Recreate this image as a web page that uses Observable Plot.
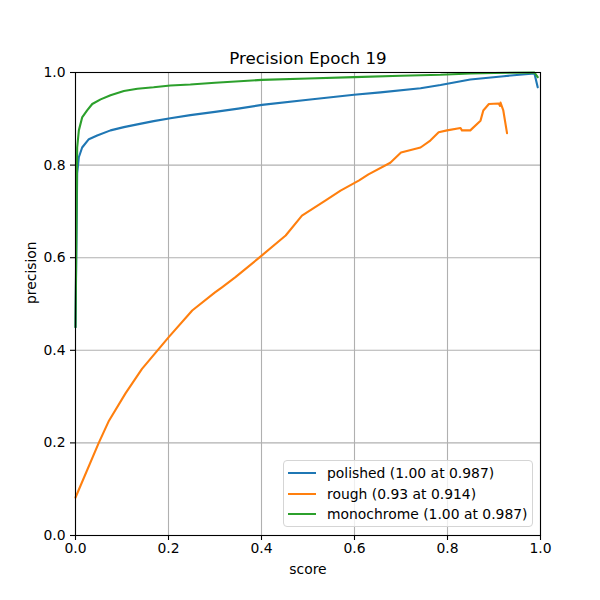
<!DOCTYPE html>
<html>
<head>
<meta charset="utf-8">
<script src="https://cdn.jsdelivr.net/npm/d3@7"></script>
<script src="https://cdn.jsdelivr.net/npm/@observablehq/plot@0.6"></script>
<style>
  html, body { margin: 0; padding: 0; background: #fff; }
  #wrap { position: relative; width: 600px; height: 600px; font-family: "DejaVu Sans", sans-serif; }
  #legend { position: absolute; left: 283px; top: 460px; width: 248px; height: 65px;
    border: 1px solid #d5d5d5; border-radius: 4px; background: rgba(255,255,255,0.8);
    font-size: 13.9px; color: #000; box-sizing: content-box; }
  .row { position: absolute; left: 0; height: 20px; display: flex; align-items: center; }
  .sw { width: 28px; height: 0; border-top: 2.1px solid; margin-left: 4px; margin-right: 11px; }
</style>
</head>
<body>
<div id="wrap"></div>
<script>
const title = "Precision Epoch 19";
const xLabel = "score";
const yLabel = "precision";
const xTicks = [0, 0.2, 0.4, 0.6, 0.8, 1.0];
const yTicks = [0, 0.2, 0.4, 0.6, 0.8, 1.0];

const seriesNames = ["polished", "rough", "monochrome"];
const seriesLabels = ["polished (1.00 at 0.987)", "rough (0.93 at 0.914)", "monochrome (1.00 at 0.987)"];
const seriesColors = ["#1f77b4", "#ff7f0e", "#2ca02c"];

const polishedScore = [0, 0.0036, 0.0072, 0.0143, 0.0287, 0.0466, 0.0753, 0.104, 0.133, 0.168, 0.204, 0.247, 0.3, 0.35, 0.401, 0.5, 0.599, 0.656, 0.742, 0.785, 0.849, 0.921, 0.987, 0.994];
const polishedPrecision = [0.45, 0.782, 0.817, 0.838, 0.856, 0.864, 0.875, 0.882, 0.888, 0.895, 0.901, 0.908, 0.915, 0.922, 0.930, 0.941, 0.952, 0.957, 0.966, 0.973, 0.985, 0.992, 0.998, 0.968];

const roughScore = [0, 0.05, 0.072, 0.1075, 0.143, 0.2, 0.251, 0.3, 0.315, 0.344, 0.401, 0.452, 0.487, 0.538, 0.57, 0.61, 0.63, 0.677, 0.7, 0.742, 0.763, 0.781, 0.799, 0.828, 0.831, 0.849, 0.871, 0.877, 0.889, 0.910, 0.913, 0.914, 0.92, 0.928];
const roughPrecision = [0.082, 0.2, 0.248, 0.307, 0.36, 0.428, 0.486, 0.525, 0.536, 0.558, 0.605, 0.648, 0.691, 0.724, 0.745, 0.767, 0.78, 0.805, 0.827, 0.838, 0.853, 0.871, 0.875, 0.880, 0.875, 0.875, 0.896, 0.918, 0.932, 0.933, 0.928, 0.935, 0.918, 0.869];

const monochromeScore = [0, 0.0036, 0.0072, 0.0143, 0.025, 0.036, 0.054, 0.0753, 0.104, 0.133, 0.168, 0.204, 0.247, 0.3, 0.401, 0.5, 0.599, 0.7, 0.785, 0.85, 0.9, 0.987, 0.994];
const monochromePrecision = [0.45, 0.838, 0.875, 0.903, 0.918, 0.932, 0.942, 0.951, 0.960, 0.965, 0.968, 0.972, 0.974, 0.978, 0.984, 0.987, 0.990, 0.993, 0.995, 0.998, 0.999, 1.0, 0.99];

const scores = [polishedScore, roughScore, monochromeScore];
const precisions = [polishedPrecision, roughPrecision, monochromePrecision];
const rows = [];
seriesNames.forEach((name, i) => {
  scores[i].forEach((s, j) => rows.push({series: name, score: s, precision: precisions[i][j]}));
});

const gridStyle = {stroke: "#b0b0b0", strokeOpacity: 1, strokeWidth: 1.1};

const plot = Plot.plot({
  width: 600,
  height: 600,
  marginLeft: 75,
  marginRight: 60,
  marginTop: 72,
  marginBottom: 65,
  style: {fontFamily: "DejaVu Sans, sans-serif", fontSize: "13.9px", color: "#000", background: "#fff"},
  x: {domain: [0, 1]},
  y: {domain: [0, 1]},
  color: {domain: seriesNames, range: seriesColors},
  marks: [
    Plot.gridX(xTicks, gridStyle),
    Plot.gridY(yTicks, gridStyle),
    Plot.line(rows, {x: "score", y: "precision", z: "series", stroke: "series", strokeWidth: 2.1, curve: "linear"}),
    Plot.frame({stroke: "#000", strokeWidth: 1.1}),
    Plot.axisX(xTicks, {tickFormat: d3.format(".1f"), tickSize: 5, tickPadding: 3, label: null, strokeWidth: 1.1}),
    Plot.axisY(yTicks, {tickFormat: d3.format(".1f"), tickSize: 5, tickPadding: 5, label: null, strokeWidth: 1.1}),
    Plot.text([title], {frameAnchor: "top", lineAnchor: "middle", dy: -14, fontSize: 16.7, text: d => d}),
    Plot.text([xLabel], {frameAnchor: "bottom", lineAnchor: "middle", dy: 34, fontSize: 13.9, text: d => d}),
    Plot.text([yLabel], {frameAnchor: "left", lineAnchor: "middle", dx: -44, rotate: -90, fontSize: 13.9, text: d => d})
  ]
});

const wrap = document.getElementById("wrap");
wrap.appendChild(plot);

const legend = document.createElement("div");
legend.id = "legend";
seriesLabels.forEach((lab, i) => {
  const r = document.createElement("div");
  r.className = "row";
  r.style.top = (2 + i * 20.5) + "px";
  const sw = document.createElement("span");
  sw.className = "sw";
  sw.style.borderTopColor = seriesColors[i];
  const t = document.createElement("span");
  t.textContent = lab;
  r.appendChild(sw);
  r.appendChild(t);
  legend.appendChild(r);
});
wrap.appendChild(legend);
</script>
</body>
</html>
